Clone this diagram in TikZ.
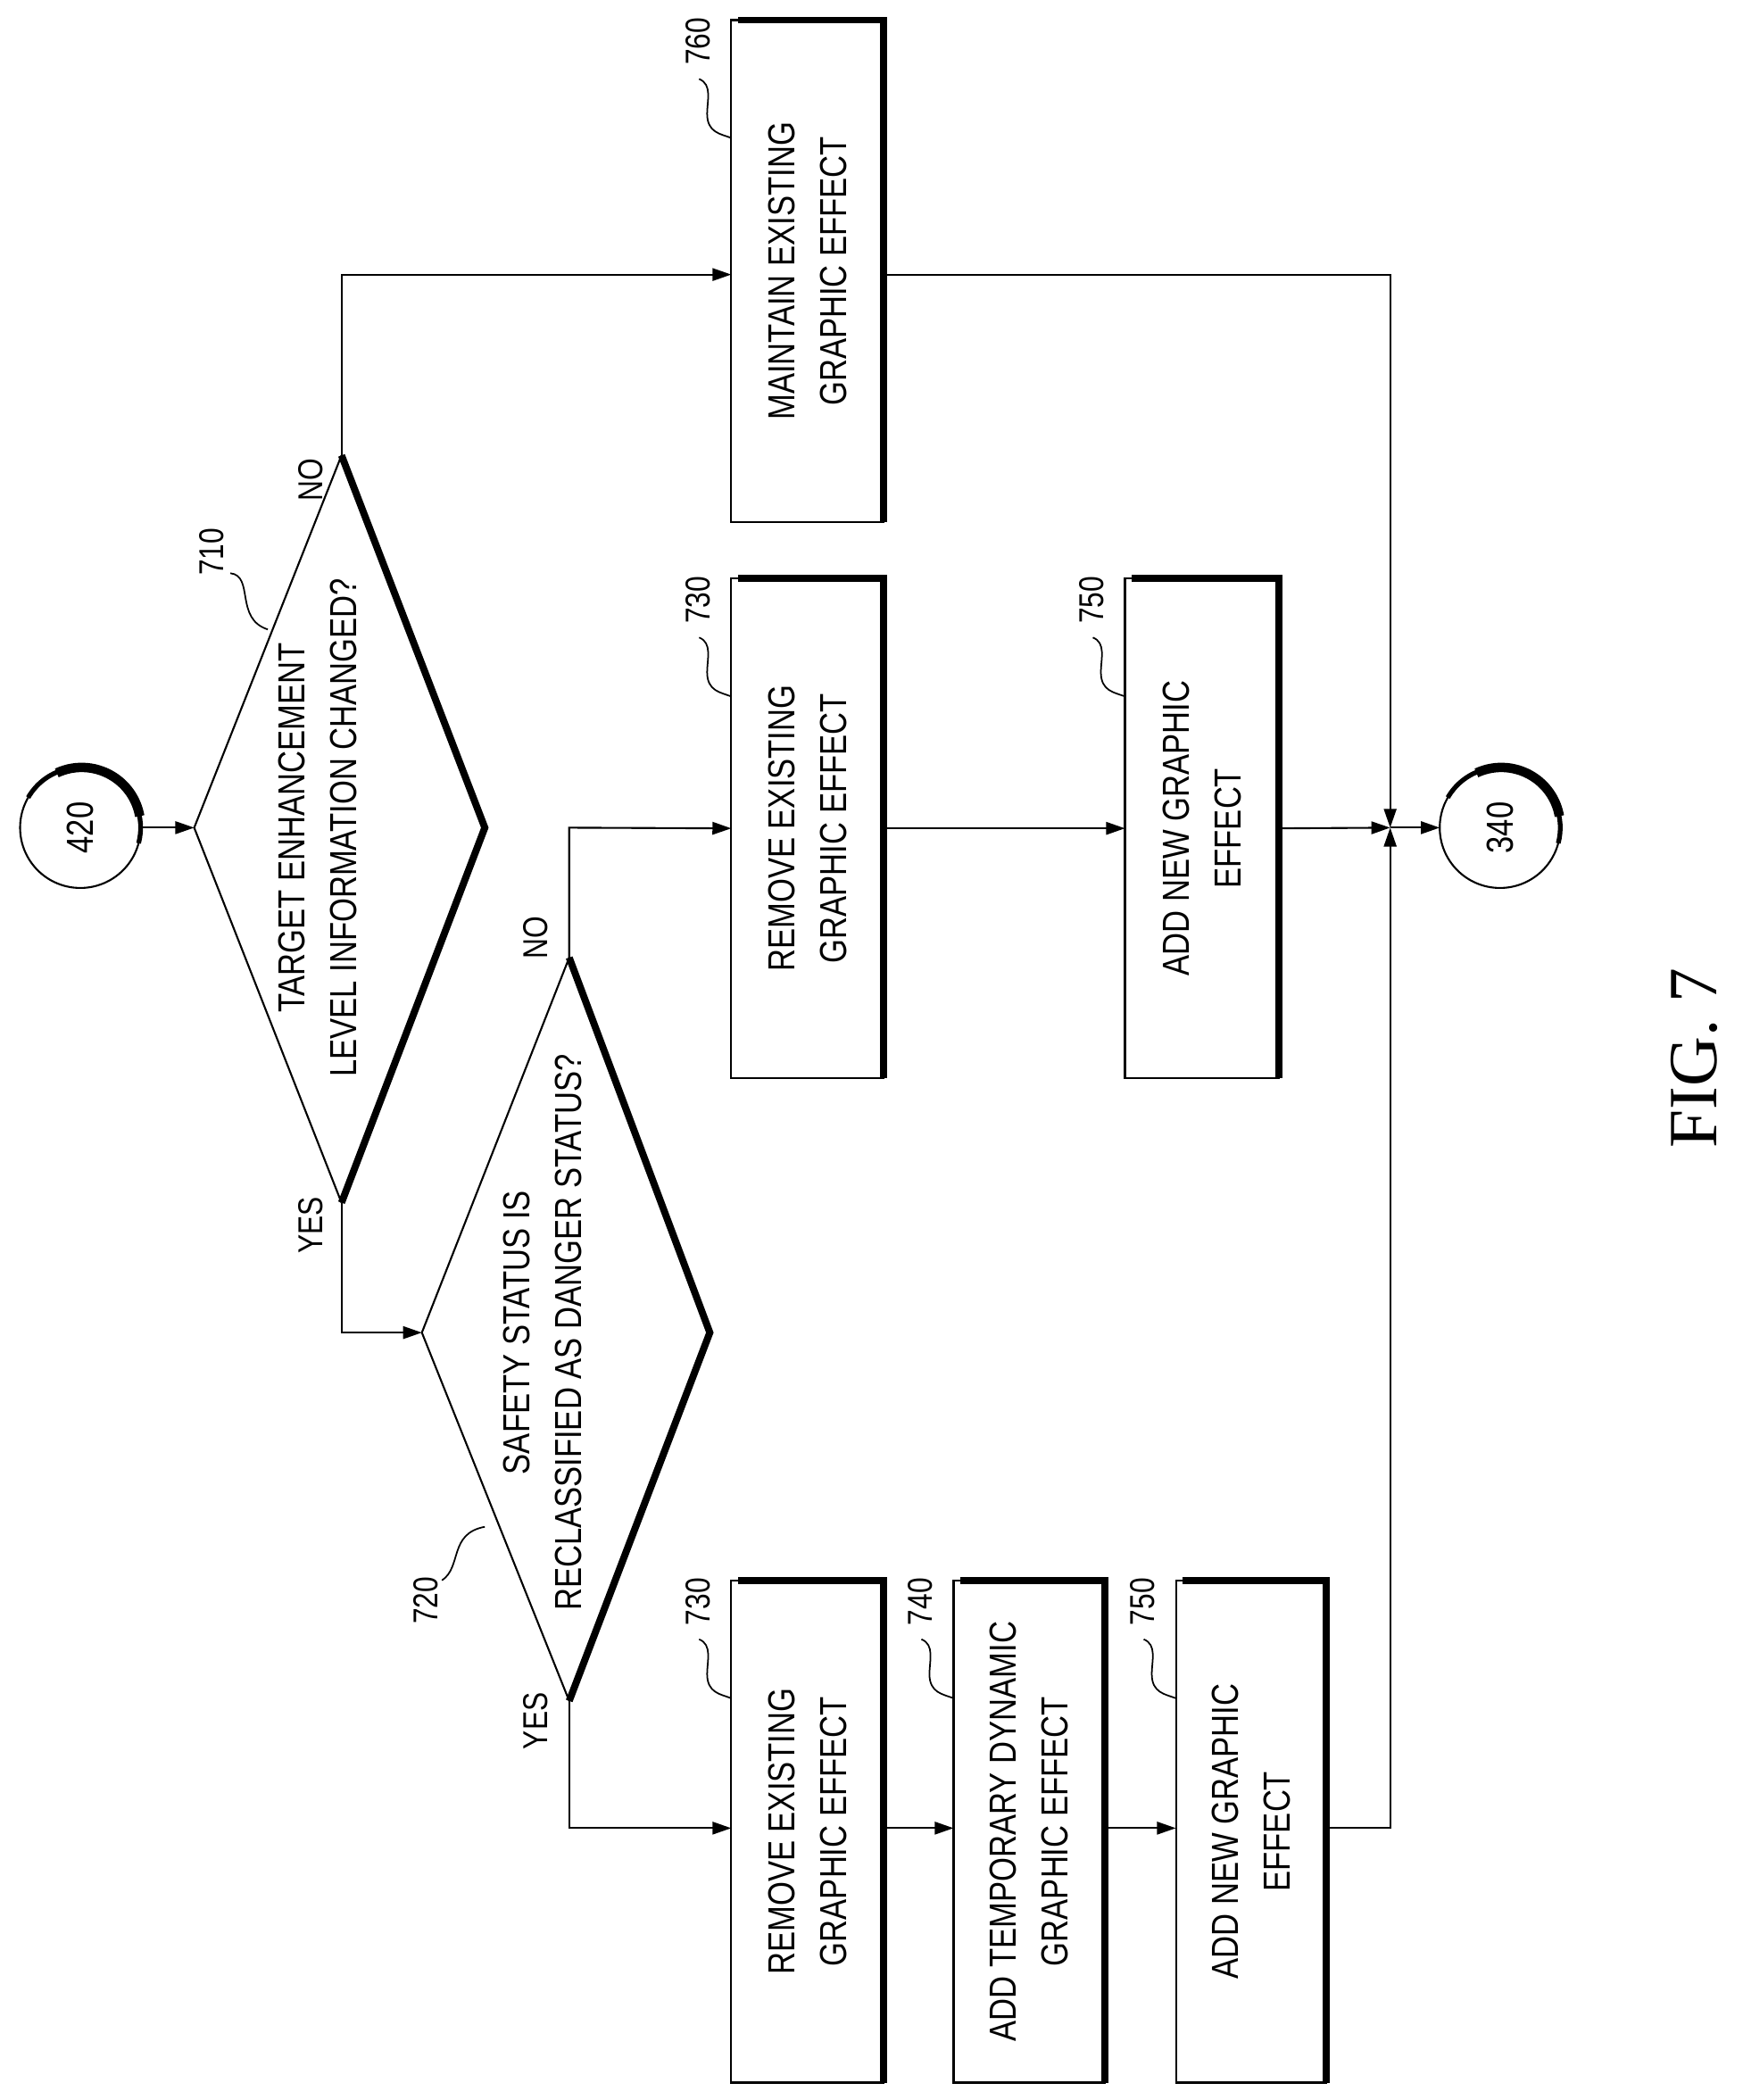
\documentclass[tikz,border=0pt]{standalone}
\usepackage{fontspec}
\setmainfont[FakeStretch=0.82]{Liberation Sans}
\newfontfamily\figfont{Liberation Serif}
\usetikzlibrary{arrows.meta}
\begin{document}
\begin{tikzpicture}[x=0.03cm,y=-0.03cm,line width=1.2pt,
 txt/.style={rotate=90,align=center,font=\fontsize{24}{33}\selectfont},
 lab/.style={rotate=90,font=\fontsize{22}{26}\selectfont},
 arr/.style={-{Triangle[length=12pt,width=8pt]}},
 lead/.style={line width=1pt},
 thick edge/.style={line width=4.5pt}]
\useasboundingbox (0,0) rectangle (1301,1568);
% boxes
\newcommand{\pbox}[7]{% name x1 y1 x2 y2 text label
 \draw (#2,#3) rectangle (#4,#5);
 \draw[thick edge] (#2+5,#3) -- (#4,#3) -- (#4,#5);
 \node[txt] (#1) at ({(#2+#4)/2},{(#3+#5)/2}) {#6};
 \coordinate (#1-l) at (#2,{(#3+#5)/2});
 \coordinate (#1-r) at (#4,{(#3+#5)/2});
 \node[lab] (#1-lab) at (#2-25,#3+16) {#7};
 \draw[lead] (#2-24,#3+44) .. controls (#2-14,#3+48) and (#2-18,#3+60) .. (#2-18,#3+70)
   .. controls (#2-18,#3+84) and (#2-8,#3+85) .. (#2,#3+88);}
\pbox{b760}{546}{15}{660}{390}{MAINTAIN EXISTING\\GRAPHIC EFFECT}{760}
\pbox{b730}{546}{432}{660}{805}{REMOVE EXISTING\\GRAPHIC EFFECT}{730}
\pbox{b750}{840}{432}{955}{805}{ADD NEW GRAPHIC\\EFFECT}{750}
\pbox{c730}{546}{1180}{660}{1555}{REMOVE EXISTING\\GRAPHIC EFFECT}{730}
\pbox{c740}{712}{1180}{825}{1555}{ADD TEMPORARY DYNAMIC\\GRAPHIC EFFECT}{740}
\pbox{c750}{878}{1180}{990}{1555}{ADD NEW GRAPHIC\\EFFECT}{750}
% circles
\newcommand{\conn}[3]{%
 \draw (#2,618) circle (45);
 \draw[line width=3pt] (#2,618) ++(-150:45) arc (-150:15:45);
 \draw[line width=6pt] (#2+1,617) ++(-115:44) arc (-115:-10:44);
 \node[txt] (#1) at (#2,618) {#3};}
\conn{n420}{60}{420}
\conn{n340}{1120}{340}
% diamonds
\coordinate (d1l) at (145,618); \coordinate (d1t) at (255,340);
\coordinate (d1r) at (362,618); \coordinate (d1b) at (255,898);
\draw (d1t) -- (d1l) -- (d1b);
\draw[thick edge] (d1t) -- (d1r) -- (d1b);
\node[txt] (d1) at (237,618) {TARGET ENHANCEMENT\\LEVEL INFORMATION CHANGED?};
\coordinate (d2l) at (315,995); \coordinate (d2t) at (425,715);
\coordinate (d2r) at (530,995); \coordinate (d2b) at (425,1270);
\draw (d2t) -- (d2l) -- (d2b);
\draw[thick edge] (d2t) -- (d2r) -- (d2b);
\node[txt] (d2) at (405,995) {SAFETY STATUS IS\\RECLASSIFIED AS DANGER STATUS?};
% connectors
\draw[arr] (n420.north) ++(0,0) (106,618) -- (d1l);
\draw[arr] (d1t) -- (255,205) -- (b760-l |- 0,205);
\draw[arr] (d1b) -- (255,995) -- (d2l);
\draw[arr] (d2t) -- (425,618) -- (b730-l);
\draw[arr] (b730-r) -- (b750-l);
\draw[arr] (d2b) -- (425,1365) -- (546,1365);
\draw[arr] (660,1365) -- (712,1365);
\draw[arr] (825,1365) -- (878,1365);
\coordinate (j) at (1038,618);
\draw[arr] (660,205) -- (1038,205) -- (j);
\draw[arr] (990,1365) -- (1038,1365) -- (j);
\draw[arr] (b750-r) -- (j);
\draw[arr] (j) -- (1075,618);
% yes/no
\node[lab] at (232,358) {NO};
\node[lab] at (232,915) {YES};
\node[lab] at (400,700) {NO};
\node[lab] at (400,1285) {YES};
% diamond labels
\node[lab] (l710) at (158,412) {710};
\draw[lead] (172,428) .. controls (190,430) and (175,462) .. (200,470);
\node[lab] (l720) at (318,1195) {720};
\draw[lead] (330,1180) .. controls (345,1170) and (335,1145) .. (362,1140);
\node[rotate=90,font=\figfont\fontsize{44}{50}\selectfont] (fig) at (1265,790) {FIG. 7};
\end{tikzpicture}
\end{document}
